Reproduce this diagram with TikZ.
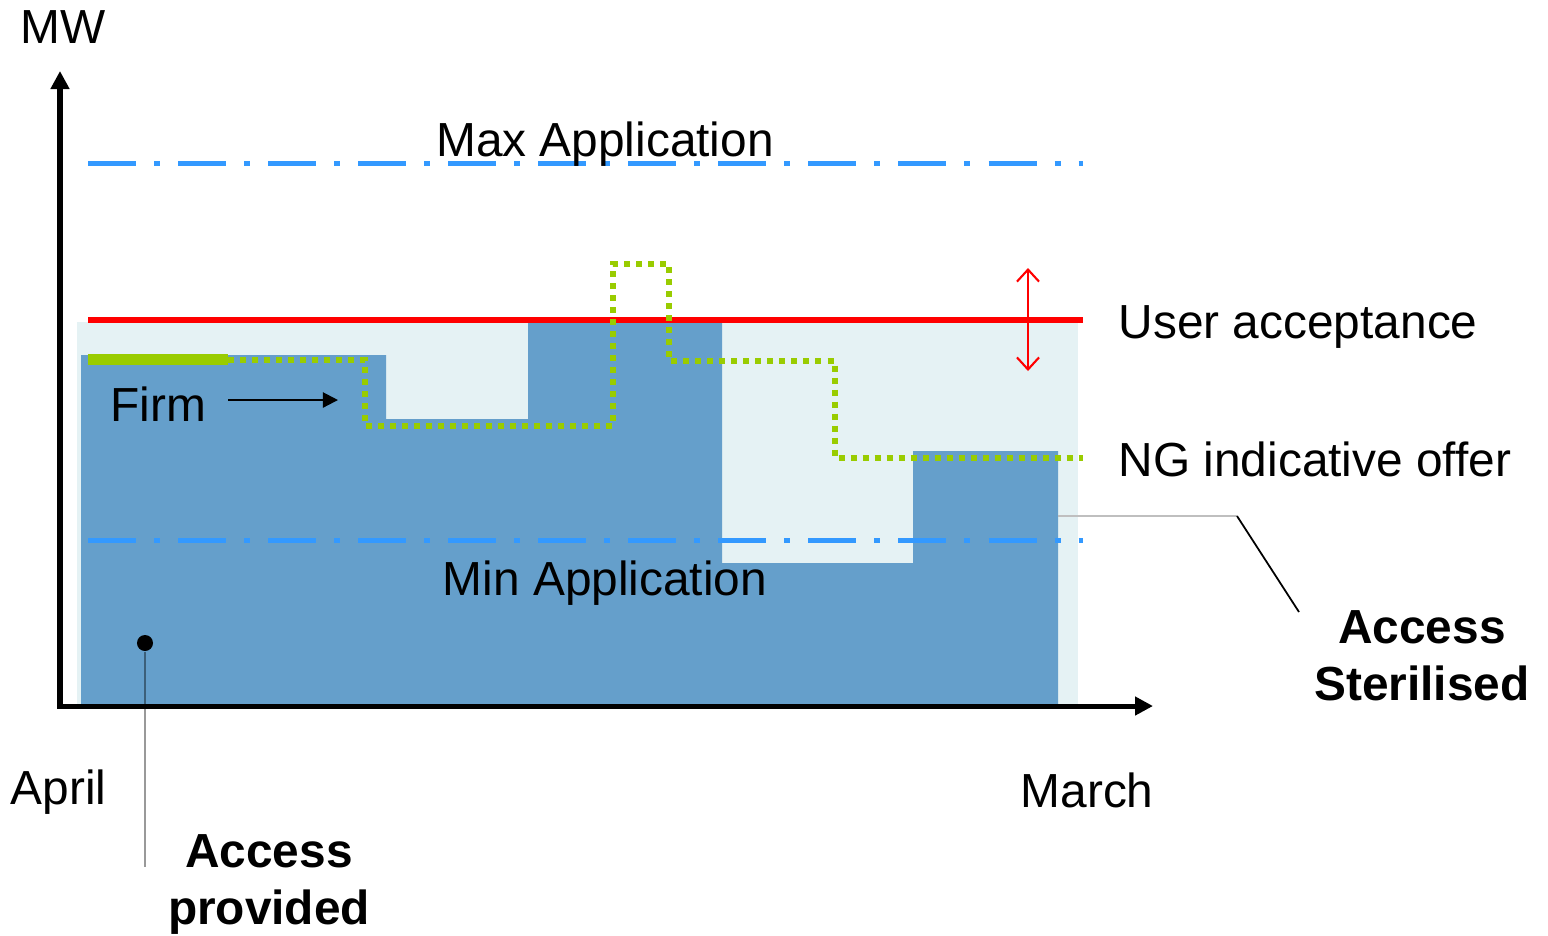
\documentclass[tikz,border=0pt]{standalone}
\usepackage{fontspec}
\setmainfont{Liberation Sans}
\usetikzlibrary{positioning, arrows.meta}

\definecolor{appblue}{HTML}{3399FF}
\definecolor{provblue}{HTML}{659FCB}
\definecolor{sterlight}{HTML}{E5F2F4}
\definecolor{offergreen}{HTML}{99CC00}

\begin{document}
\begin{tikzpicture}[
        x=0.01cm, y=-0.01cm,
        lbl/.style={font=\fontsize{13.6}{16}\selectfont, inner sep=0pt},
        boldlbl/.style={inner sep=0pt, font=\fontsize{13.6}{16}\selectfont\bfseries, align=center},
        appline/.style={appblue, line width=0.05cm, dash pattern=on 0.48cm off 0.18cm on 0.06cm off 0.18cm},
        offer/.style={offergreen, line width=0.055cm, dash pattern=on 0.06cm off 0.06cm},
        axis/.style={line width=0.05cm, {Triangle[length=0.18cm, width=0.18cm]}-{Triangle[length=0.18cm, width=0.18cm]}},
    ]
    \useasboundingbox (0,0) rectangle (1548,935);

    % areas
    \fill[sterlight] (77,322) rectangle (1078,706);
    \fill[provblue] (81,706) |- (386,355) |- (528,419) |- (722,322) |- (913,563) |- (1058,451) -- (1058,706) -- cycle;

    % application limits
    \draw[appline] (88,163) -- (1083,163);
    \draw[appline] (88,540) -- (1083,540);

    % user acceptance
    \draw[red, line width=0.06cm] (88,320) -- (1083,320);
    \coordinate (uatop) at (1028,268);
    \coordinate (uabot) at (1028,371);
    \draw[red, line width=0.6pt, {Straight Barb[length=0.12cm, width=0.22cm]}-{Straight Barb[length=0.12cm, width=0.22cm]}] (uatop) -- (uabot);

    % NG offer
    \draw[offergreen, line width=0.11cm] (88,359) -- (228,359);
    \draw[offer] (228,360) -| (365,426) -| (613,264) -| (669,361) -| (835,458) -- (1083,458);

    % axes
    \coordinate (ytip) at (60,71);
    \coordinate (xtip) at (1153,706);
    \draw[axis] (ytip) |- (xtip);

    % labels
    \node[lbl, anchor=base west] (mw) at (20,43) {MW};
    \node[lbl, anchor=base] (maxapp) at (605,156) {Max Application};
    \node[lbl, anchor=base] (minapp) at (605,595) {Min Application};
    \node[lbl, anchor=base west] (firm) at (110,421) {Firm};
    \node[lbl, anchor=base west] (useracc) at (1118,338) {User acceptance};
    \node[lbl, anchor=base west] (ngoffer) at (1118,476) {NG indicative offer};
    \node[lbl, anchor=base west] (april) at (10,804) {April};
    \node[lbl, anchor=base west] (march) at (1020,807) {March};
    \node[boldlbl, anchor=base] (sterilised) at (1422,700) {Access\\Sterilised};
    \node[boldlbl, anchor=base] (provided) at (269,924) {Access\\provided};

    % firm arrow
    \coordinate (firmtail) at (228,400);
    \coordinate (firmtip) at (338,400);
    \draw[line width=0.6pt, -{Triangle[length=0.15cm, width=0.15cm]}] (firmtail) -- (firmtip);

    % callouts
    \node[circle, fill=black, inner sep=0pt, minimum size=0.16cm] (provdot) at (145,643) {};
    \coordinate (provend) at (145,867);
    \draw[black, opacity=0.4, line width=0.5pt] (provdot) -- (provend);
    \coordinate (sterstart) at (1058,516);
    \coordinate (sterknee) at (1237,516);
    \coordinate (sterend) at (1299,612);
    \draw[black!25, line width=0.5pt] (sterstart) -- (sterknee);
    \draw[black, line width=0.5pt] (sterknee) -- (sterend);
\end{tikzpicture}
\end{document}
